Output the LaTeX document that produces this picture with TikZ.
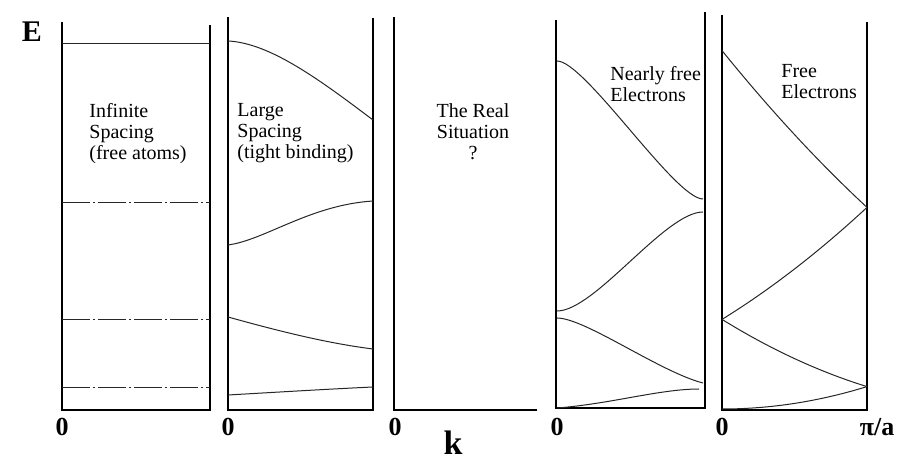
\documentclass[tikz,border=0pt]{standalone}
\usepackage{fontspec}
\setmainfont{Liberation Serif}
\usepackage{tikz}
\usetikzlibrary{positioning}

\begin{document}
\begin{tikzpicture}[x=0.5pt, y=-0.5pt,
  frame/.style={line width=1.3pt, line join=miter},
  band/.style={line width=0.5pt, black!85},
  level/.style={band, dash pattern=on 14pt off 1.5pt on 1pt off 1.5pt},
  lbl/.style={align=left, anchor=north west, inner sep=0pt,
              font=\fontsize{10}{10.5}\selectfont},
  tick/.style={inner sep=0pt, font=\bfseries\fontsize{13}{13}\selectfont}
]
\useasboundingbox (0,0) rectangle (914,469);

% axis letters
\node[tick, font=\bfseries\fontsize{15}{15}\selectfont] (E) at (32,32) {E};
\node[tick, font=\bfseries\fontsize{17}{17}\selectfont] (k) at (453,443) {k};

% panel 1: infinite spacing
\draw[frame] (62,22) -- (62,410) -- (210,410) -- (210,25);
\draw[band]  (62,44)  -- (210,44);
\draw[level] (62,203) -- (210,203);
\draw[level] (62,320) -- (210,320);
\draw[level] (62,388) -- (210,388);
\node[lbl] (inf) at (89,103) {Infinite\\Spacing\\(free atoms)};
\node[tick] (zero1) at (62,427) {0};

% panel 2: tight binding
\draw[frame] (228,17) -- (228,410) -- (373,410) -- (373,18);
\draw[band] (228,41)  .. controls (270,43) and (320,80)  .. (373,120);
\draw[band] (228,245) .. controls (265,240) and (310,205) .. (373,201);
\draw[band] (228,317) .. controls (275,330) and (325,343) .. (373,349);
\draw[band] (228,395) .. controls (280,392) and (330,389) .. (373,387);
\node[lbl] (tight) at (237,103) {Large\\Spacing\\(tight binding)};
\node[tick] (zero2) at (228,427) {0};

% panel 3: the real situation
\draw[frame] (394,17) -- (394,410) -- (537,410);
\node[lbl, align=center, anchor=north] (real) at (473,103) {The Real\\Situation\\?};
\node[tick] (zero3) at (395,427) {0};

% panel 4: nearly free electrons
\draw[frame] (556,20) -- (556,408) -- (705,408) -- (705,12);
\draw[band] (557,61)  .. controls (585,61) and (675,199)  .. (703,199);
\draw[band] (557,311) .. controls (595,311) and (665,212) .. (703,212);
\draw[band] (557,318) .. controls (585,318) and (660,372) .. (703,383);
\draw[band] (557,408) .. controls (610,404) and (660,389) .. (699,389);
\node[lbl] (nfe) at (610,66) {Nearly free\\Electrons};
\node[tick] (zero4) at (557,427) {0};

% panel 5: free electrons
\draw[frame] (722,15) -- (722,410) -- (867,410) -- (867,22);
\draw[band] plot[domain=0:1, samples=30] ({722+145*\x}, {409-22.4*(\x)^2});
\draw[band] plot[domain=0:1, samples=30] ({722+145*\x}, {409-22.4*(\x-2)^2});
\draw[band] plot[domain=0:1, samples=30] ({722+145*\x}, {409-22.4*(\x+2)^2});
\draw[band] plot[domain=0:1, samples=30] ({722+145*\x}, {409-22.4*(\x-4)^2});
\node[lbl] (fe) at (781,64) {Free\\Electrons};
\node[tick] (zero5) at (722,427) {0};
\node[tick] (pia) at (877,427) {π/a};
\end{tikzpicture}
\end{document}
